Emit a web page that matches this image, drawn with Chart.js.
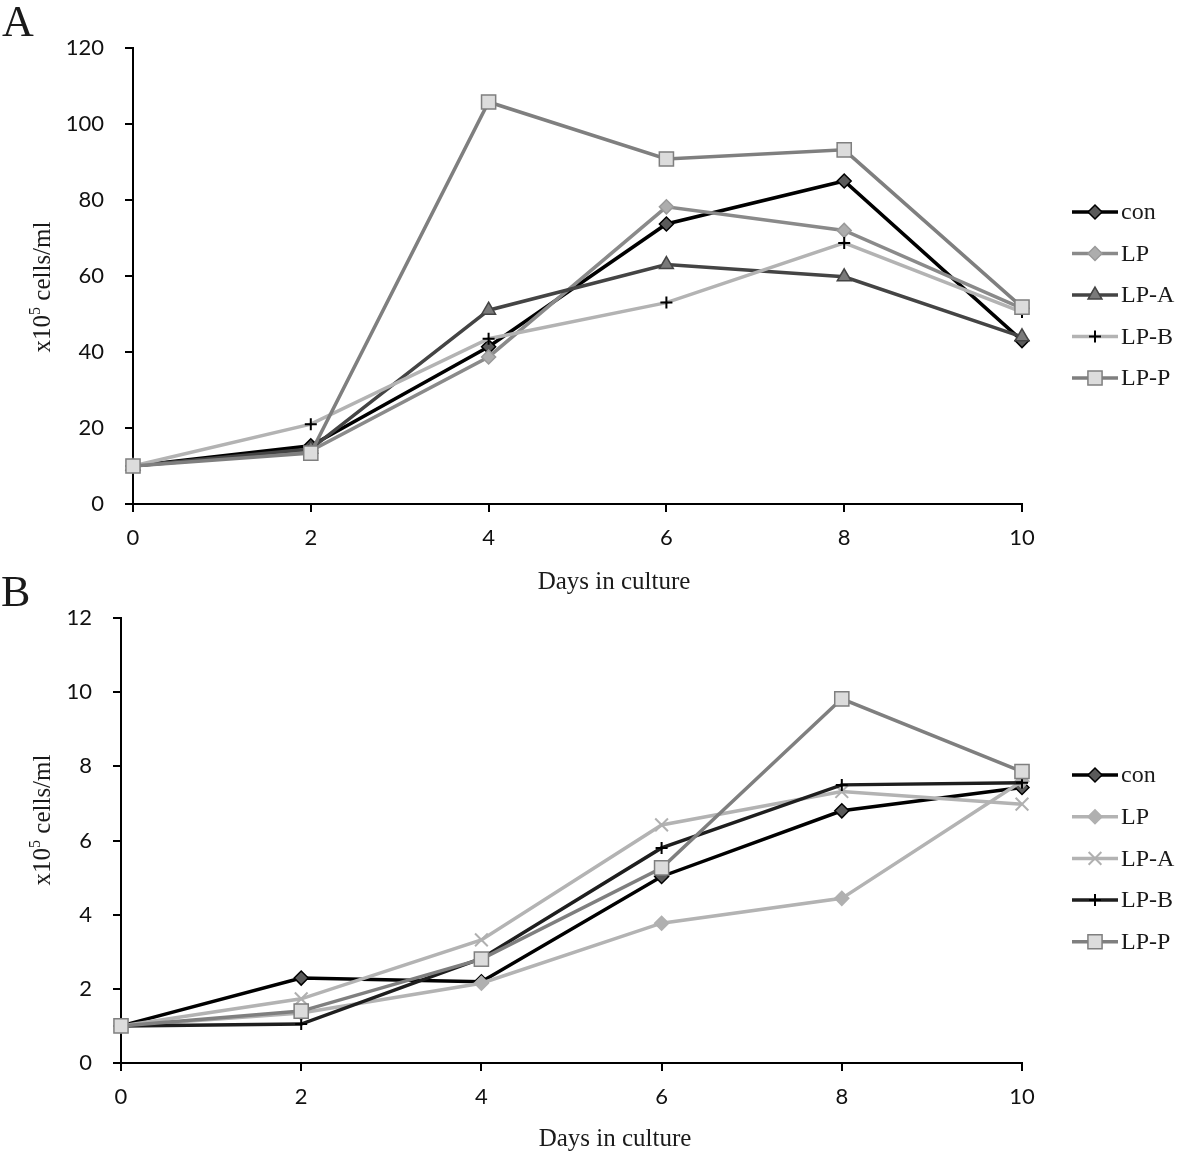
<!DOCTYPE html>
<html>
<head>
<meta charset="utf-8">
<script src="https://cdn.jsdelivr.net/npm/chart.js@4.4.0/dist/chart.umd.min.js"></script>
<style>
  html, body { margin: 0; padding: 0; background: #fff; }
  body { width: 1181px; height: 1154px; position: relative; overflow: hidden; }
  .panel { position: absolute; left: 0; width: 1181px; }
  #pa { top: 0; height: 600px; }
  #pb { top: 565px; height: 589px; }
</style>
</head>
<body>
<div class="panel" id="pa"><canvas id="ca" width="1181" height="600"></canvas></div>
<div class="panel" id="pb"><canvas id="cb" width="1181" height="589"></canvas></div>
<script>
// ---------- DATA ----------
const days = [0, 2, 4, 6, 8, 10];
const seriesNames = ['con', 'LP', 'LP-A', 'LP-B', 'LP-P'];
const xTickValues = [0, 2, 4, 6, 8, 10];

// Panel A (x10^5 cells/ml)
const aCon  = [10, 15.3, 41.4, 73.7, 85.0, 43.0];
const aLP   = [10, 14.0, 38.7, 78.2, 72.0, 51.5];
const aLPA  = [10, 14.5, 51.0, 63.0, 59.8, 44.0];
const aLPB  = [10, 21.0, 43.5, 53.0, 68.7, 50.5];
const aLPP  = [10, 13.4, 105.8, 90.8, 93.2, 51.8];
const yTicksA = [0, 20, 40, 60, 80, 100, 120];

// Panel B (x10^5 cells/ml)
const bCon  = [1, 2.29, 2.19, 5.03, 6.80, 7.43];
const bLP   = [1, 1.35, 2.15, 3.77, 4.44, 7.60];
const bLPA  = [1, 1.73, 3.32, 6.42, 7.32, 6.98];
const bLPB  = [1, 1.05, 2.82, 5.80, 7.50, 7.56];
const bLPP  = [1, 1.40, 2.80, 5.26, 9.82, 7.86];
const yTicksB = [0, 2, 4, 6, 8, 10, 12];

// ---------- STYLES ----------
const stylesA = [
  { line: '#000000', fill: '#5a5a5a', border: '#000000', pointStyle: 'rectRot', radius: 7 },
  { line: '#8a8a8a', fill: '#adadad', border: '#9a9a9a', pointStyle: 'rectRot', radius: 7 },
  { line: '#444444', fill: '#7a7a7a', border: '#444444', pointStyle: 'triangle', radius: 8 },
  { line: '#b3b3b3', fill: '#000000', border: '#000000', pointStyle: 'cross', radius: 6 },
  { line: '#7f7f7f', fill: '#dcdcdc', border: '#7f7f7f', pointStyle: 'rect', radius: 10 }
];
const stylesB = [
  { line: '#000000', fill: '#5a5a5a', border: '#000000', pointStyle: 'rectRot', radius: 7 },
  { line: '#b3b3b3', fill: '#b0b0b0', border: '#b0b0b0', pointStyle: 'rectRot', radius: 7 },
  { line: '#b3b3b3', fill: '#b0b0b0', border: '#b0b0b0', pointStyle: 'crossRot', radius: 9 },
  { line: '#1e1e1e', fill: '#000000', border: '#000000', pointStyle: 'cross', radius: 6 },
  { line: '#7f7f7f', fill: '#dcdcdc', border: '#7f7f7f', pointStyle: 'rect', radius: 10 }
];

const TEXT = '#1a1a1a';
const SERIF = '"Liberation Serif", "Times New Roman", serif';
const SANS = 'Lato, "Open Sans", sans-serif';

function makeDatasets(valuesList, styles) {
  return valuesList.map((vals, i) => {
    const s = styles[i];
    return {
      label: seriesNames[i],
      data: days.map((d, k) => ({ x: d, y: vals[k] })),
      borderColor: s.line,
      borderWidth: 3.5,
      pointStyle: s.pointStyle,
      pointRadius: s.radius,
      pointHoverRadius: s.radius,
      pointBackgroundColor: s.fill,
      pointBorderColor: s.border,
      pointBorderWidth: s.pointStyle.indexOf('cross') === 0 ? 2 : 1.5,
      tension: 0,
      fill: false,
      order: valuesList.length - i,
      clip: false
    };
  });
}

const decorPlugin = {
  id: 'decor',
  afterDraw(chart, args, o) {
    const ctx = chart.ctx;
    ctx.save();
    ctx.fillStyle = TEXT;
    // panel letter
    ctx.font = '44px ' + SERIF;
    ctx.textAlign = 'left';
    ctx.textBaseline = 'alphabetic';
    ctx.fillText(o.letter, o.letterX, o.letterY);
    // x title
    ctx.font = '25px ' + SERIF;
    ctx.textAlign = 'center';
    ctx.textBaseline = 'middle';
    ctx.fillText(o.xTitle, o.xTitleX, o.xTitleY);
    // y title with superscript
    ctx.save();
    ctx.translate(o.yTitleX, o.yTitleY);
    ctx.rotate(-Math.PI / 2);
    ctx.textAlign = 'left';
    ctx.textBaseline = 'alphabetic';
    const mainFont = '25px ' + SERIF, supFont = '16px ' + SERIF;
    ctx.font = mainFont; const w1 = ctx.measureText('x10').width;
    ctx.font = supFont; const w2 = ctx.measureText('5').width;
    ctx.font = mainFont; const w3 = ctx.measureText(' cells/ml').width;
    const total = w1 + w2 + w3;
    let x0 = -total / 2;
    const base = 8;
    ctx.font = mainFont; ctx.fillText('x10', x0, base);
    ctx.font = supFont; ctx.fillText('5', x0 + w1, base - 10);
    ctx.font = mainFont; ctx.fillText(' cells/ml', x0 + w1 + w2, base);
    ctx.restore();
    // legend
    const styles = o.styles;
    for (let i = 0; i < seriesNames.length; i++) {
      const y = o.legY0 + i * o.legStep;
      const s = styles[i];
      ctx.beginPath();
      ctx.strokeStyle = s.line;
      ctx.lineWidth = 3.5;
      ctx.moveTo(o.legX1, y);
      ctx.lineTo(o.legX2, y);
      ctx.stroke();
      ctx.fillStyle = s.fill;
      ctx.strokeStyle = s.border;
      ctx.lineWidth = s.pointStyle.indexOf('cross') === 0 ? 2 : 1.5;
      Chart.helpers.drawPoint(ctx, { pointStyle: s.pointStyle, radius: s.radius, rotation: 0, borderWidth: ctx.lineWidth }, (o.legX1 + o.legX2) / 2, y);
      ctx.fillStyle = TEXT;
      ctx.font = '24px ' + SERIF;
      ctx.textAlign = 'left';
      ctx.textBaseline = 'middle';
      ctx.fillText(seriesNames[i], o.legText, y + 1);
    }
    ctx.restore();
  }
};

function makeChart(canvasId, datasets, yTicks, yMax, area, decor) {
  return new Chart(document.getElementById(canvasId), {
    type: 'line',
    data: { datasets },
    plugins: [decorPlugin],
    options: {
      responsive: false,
      animation: false,
      events: [],
      layout: { padding: { left: 0, top: area.top, right: area.canvasW - area.right, bottom: 0 } },
      plugins: {
        legend: { display: false },
        tooltip: { enabled: false },
        decor
      },
      scales: {
        x: {
          type: 'linear', min: 0, max: 10,
          afterBuildTicks: (sc) => { sc.ticks = xTickValues.map(v => ({ value: v })); },
          afterFit: (sc) => { sc.height = area.canvasH - area.bottom; },
          grid: { display: true, drawOnChartArea: false, drawTicks: true, tickLength: 8, color: '#000', lineWidth: 2 },
          border: { display: true, color: '#000', width: 2 },
          ticks: { color: '#111', font: { family: SANS, size: 22 }, padding: 13, maxRotation: 0 }
        },
        y: {
          type: 'linear', min: 0, max: yMax,
          afterBuildTicks: (sc) => { sc.ticks = yTicks.map(v => ({ value: v })); },
          afterFit: (sc) => { sc.width = area.left; },
          grid: { display: true, drawOnChartArea: false, drawTicks: true, tickLength: 8, color: '#000', lineWidth: 2 },
          border: { display: true, color: '#000', width: 2 },
          ticks: { color: '#111', font: { family: SANS, size: 22 }, padding: 21 }
        }
      }
    }
  });
}

makeChart('ca', makeDatasets([aCon, aLP, aLPA, aLPB, aLPP], stylesA), yTicksA, 120,
  { left: 133, right: 1022, top: 48, bottom: 504, canvasW: 1181, canvasH: 600 },
  { letter: 'A', letterX: 2, letterY: 36, xTitle: 'Days in culture', xTitleX: 614, xTitleY: 582,
    yTitleX: 42, yTitleY: 287, styles: stylesA,
    legX1: 1072, legX2: 1118, legText: 1121, legY0: 212, legStep: 41.5 });

makeChart('cb', makeDatasets([bCon, bLP, bLPA, bLPB, bLPP], stylesB), yTicksB, 12,
  { left: 121, right: 1022, top: 53, bottom: 498, canvasW: 1181, canvasH: 589 },
  { letter: 'B', letterX: 1, letterY: 41, xTitle: 'Days in culture', xTitleX: 615, xTitleY: 574,
    yTitleX: 42, yTitleY: 255, styles: stylesB,
    legX1: 1072, legX2: 1118, legText: 1121, legY0: 210, legStep: 41.7 });
</script>
</body>
</html>
